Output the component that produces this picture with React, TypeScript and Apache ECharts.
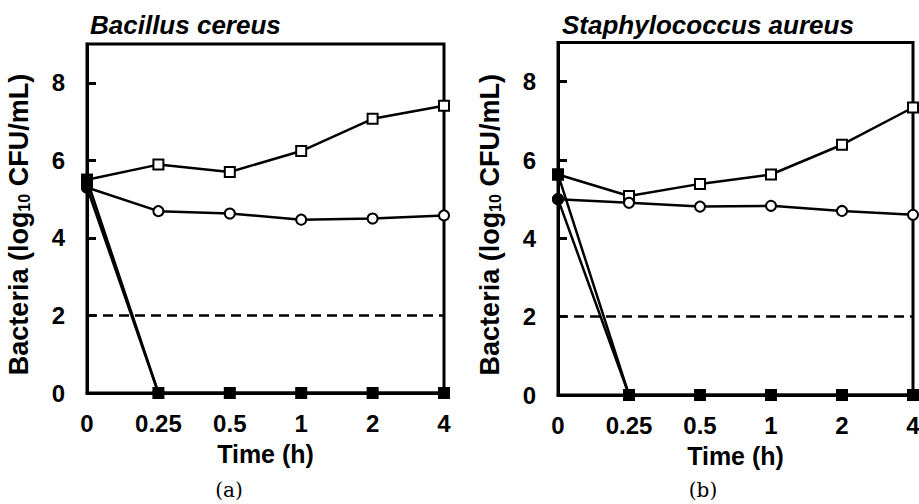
import React, { useEffect, useRef } from "react";
import * as echarts from "echarts";

const TIME_LABELS = ["0", "0.25", "0.5", "1", "2", "4"];
const Y_TICKS_MAX = 9;
const DETECTION_LIMIT = 2;

const PANEL_TITLES = ["Bacillus cereus", "Staphylococcus aureus"];
const PANEL_TAGS = ["(a)", "(b)"];

// Bacillus cereus
const BC_OPEN_SQUARE = [5.5, 5.89, 5.7, 6.24, 7.07, 7.41];
const BC_OPEN_CIRCLE = [5.3, 4.69, 4.63, 4.47, 4.5, 4.58];
const BC_FILLED_SQUARE = [5.5, 0, 0, 0, 0, 0];
const BC_FILLED_CIRCLE = [5.3, 0, 0, 0, 0, 0];

// Staphylococcus aureus
const SA_OPEN_SQUARE = [5.63, 5.08, 5.39, 5.63, 6.39, 7.34];
const SA_OPEN_CIRCLE = [5.0, 4.91, 4.81, 4.83, 4.7, 4.6];
const SA_FILLED_SQUARE = [5.63, 0, 0, 0, 0, 0];
const SA_FILLED_CIRCLE = [5.0, 0, 0, 0, 0, 0];

const FONT = "'Liberation Sans', Arial, sans-serif";

export default function App() {
  const ref = useRef<HTMLDivElement>(null);

  useEffect(() => {
    if (!ref.current) return;
    const chart = echarts.init(ref.current, undefined, { renderer: "svg" });

    const grids = [
      { left: 87, top: 44, width: 357, height: 349 },
      { left: 558, top: 42.5, width: 355, height: 352.5 },
    ];

    const panelData = [
      [BC_OPEN_SQUARE, BC_OPEN_CIRCLE, BC_FILLED_SQUARE, BC_FILLED_CIRCLE],
      [SA_OPEN_SQUARE, SA_OPEN_CIRCLE, SA_FILLED_SQUARE, SA_FILLED_CIRCLE],
    ];

    const series: any[] = [];
    panelData.forEach((sets, p) => {
      const styles = [
        { symbol: "rect", fill: "#fff" },
        { symbol: "circle", fill: "#fff" },
        { symbol: "rect", fill: "#000" },
        { symbol: "circle", fill: "#000" },
      ];
      sets.forEach((vals, i) => {
        const s: any = {
          type: "line",
          xAxisIndex: p,
          yAxisIndex: p,
          data: vals,
          symbol: styles[i].symbol,
          symbolSize: 10,
          showAllSymbol: true,
          lineStyle: { color: "#000", width: 2.5 },
          itemStyle: { color: styles[i].fill, borderColor: "#000", borderWidth: 2 },
          z: 3 + i,
          silent: true,
        };
        if (i === 0) {
          s.markLine = {
            silent: true,
            symbol: "none",
            label: { show: false },
            lineStyle: { color: "#000", width: 2.5, type: [10, 6] },
            data: [{ yAxis: DETECTION_LIMIT }],
          };
        }
        series.push(s);
      });
    });

    const option: any = {
      animation: false,
      backgroundColor: "#fff",
      title: PANEL_TITLES.map((t, i) => ({
        text: t,
        left: i === 0 ? 90 : 562,
        top: 12,
        padding: 0,
        textStyle: {
          fontFamily: FONT,
          fontSize: 26,
          fontWeight: "bold",
          fontStyle: "italic",
          color: "#000",
        },
      })),
      grid: grids.map((g) => ({
        ...g,
        show: true,
        borderColor: "#000",
        borderWidth: 3,
        backgroundColor: "transparent",
        containLabel: false,
        outerBoundsMode: "none",
      })),
      xAxis: grids.map((_, i) => ({
        type: "category",
        gridIndex: i,
        data: TIME_LABELS,
        boundaryGap: false,
        name: "Time (h)",
        nameLocation: "middle",
        nameGap: 48,
        nameTextStyle: { fontFamily: FONT, fontSize: 25, fontWeight: "bold", color: "#000" },
        axisLine: { show: true, lineStyle: { color: "#000", width: 3 } },
        axisTick: { show: false },
        splitLine: { show: false },
        axisLabel: {
          fontFamily: FONT,
          fontSize: 24,
          fontWeight: "bold",
          color: "#000",
          margin: 18,
          interval: 0,
        },
      })),
      yAxis: grids.map((_, i) => ({
        type: "value",
        gridIndex: i,
        min: 0,
        max: Y_TICKS_MAX,
        interval: 2,
        name: "Bacteria (log{sub|10} CFU/mL)",
        nameLocation: "middle",
        nameGap: 55,
        nameTextStyle: {
          fontFamily: FONT,
          fontSize: 27,
          fontWeight: "bold",
          color: "#000",
          padding: [0, 12, 0, 0],
          rich: {
            sub: {
              fontFamily: FONT,
              fontSize: 16,
              fontWeight: "bold",
              color: "#000",
              verticalAlign: "bottom",
              padding: [11, 0, 0, 0],
            },
          },
        },
        axisLine: { show: true, lineStyle: { color: "#000", width: 3 } },
        axisTick: { show: true, inside: true, length: 9, lineStyle: { color: "#000", width: 3 } },
        splitLine: { show: false },
        axisLabel: {
          fontFamily: FONT,
          fontSize: 24,
          fontWeight: "bold",
          color: "#000",
          margin: 22,
          showMaxLabel: false,
        },
      })),
      graphic: PANEL_TAGS.map((t, i) => ({
        type: "text",
        x: i === 0 ? 229 : 703,
        y: 490,
        style: {
          text: t,
          fontFamily: "'DejaVu Serif', serif",
          fontSize: 20,
          fill: "#000",
          textAlign: "center",
          textVerticalAlign: "middle",
        },
      })),
      series,
    };

    chart.setOption(option);
    return () => chart.dispose();
  }, []);

  return (
    <div
      ref={ref}
      style={{ position: "absolute", left: 0, top: 0, width: 919, height: 504 }}
    />
  );
}
